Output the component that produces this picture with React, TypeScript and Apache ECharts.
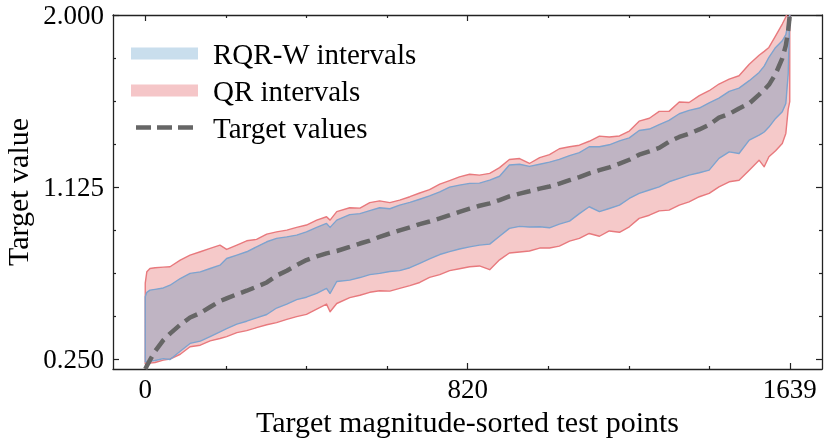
import React, { useEffect, useRef } from 'react';
import * as echarts from 'echarts';

// Test point index (sorted by target magnitude)
const xIndex = [
  0, 4, 12, 25, 46, 63, 89, 114, 140, 165, 190, 207, 233, 258, 283, 309, 334, 360, 385, 410,
  436, 461, 470, 487, 520, 546, 571, 596, 622, 647, 673, 698, 723, 749, 774, 799, 825, 850, 876, 901,
  926, 952, 977, 1003, 1028, 1053, 1079, 1104, 1129, 1155, 1180, 1206, 1231, 1256, 1282, 1307, 1332, 1358, 1383, 1409,
  1434, 1459, 1485, 1510, 1536, 1561, 1574, 1586, 1603, 1620, 1629, 1635, 1639,
];

const qrUpper = [
  0.637, 0.694, 0.711, 0.715, 0.718, 0.72, 0.754, 0.779, 0.796, 0.813, 0.83, 0.808, 0.83, 0.852, 0.859, 0.886, 0.897, 0.906, 0.92, 0.932,
  0.957, 0.974, 0.957, 1.0, 1.02, 1.018, 1.046, 1.055, 1.046, 1.059, 1.076, 1.095, 1.112, 1.14, 1.158, 1.177, 1.19, 1.186, 1.195, 1.224,
  1.265, 1.27, 1.245, 1.275, 1.29, 1.32, 1.33, 1.338, 1.358, 1.384, 1.38, 1.385, 1.41, 1.46, 1.475, 1.51, 1.51, 1.558, 1.555, 1.59,
  1.615, 1.649, 1.674, 1.691, 1.75, 1.795, 1.815, 1.835, 1.894, 1.954, 1.99, 2.03, 2.08,
];

const rqrUpper = [
  0.567, 0.59, 0.601, 0.605, 0.612, 0.626, 0.66, 0.686, 0.694, 0.711, 0.728, 0.762, 0.779, 0.796, 0.821, 0.847, 0.864, 0.872, 0.881, 0.897,
  0.92, 0.94, 0.92, 0.957, 0.985, 0.99, 1.005, 1.02, 1.015, 1.033, 1.047, 1.063, 1.08, 1.101, 1.125, 1.135, 1.144, 1.145, 1.16, 1.18,
  1.237, 1.241, 1.23, 1.241, 1.252, 1.266, 1.285, 1.3, 1.33, 1.33, 1.34, 1.36, 1.375, 1.413, 1.42, 1.443, 1.464, 1.498, 1.515, 1.527,
  1.553, 1.577, 1.612, 1.628, 1.666, 1.708, 1.74, 1.785, 1.835, 1.869, 1.9, 1.96, 2.0,
];

const rqrLower = [
  0.236, 0.238, 0.24, 0.243, 0.253, 0.248, 0.29, 0.33, 0.342, 0.365, 0.389, 0.405, 0.428, 0.443, 0.46, 0.477, 0.51, 0.53, 0.553, 0.565,
  0.585, 0.61, 0.584, 0.645, 0.652, 0.665, 0.68, 0.686, 0.696, 0.7, 0.715, 0.737, 0.76, 0.782, 0.797, 0.81, 0.821, 0.83, 0.835, 0.875,
  0.915, 0.925, 0.922, 0.923, 0.918, 0.937, 0.952, 0.99, 1.025, 1.0, 1.016, 1.033, 1.067, 1.093, 1.11, 1.126, 1.152, 1.169, 1.186, 1.198,
  1.211, 1.271, 1.304, 1.296, 1.364, 1.389, 1.405, 1.43, 1.474, 1.508, 1.55, 1.7, 2.0,
];

const qrLower = [
  0.228, 0.229, 0.23, 0.233, 0.245, 0.25, 0.275, 0.313, 0.321, 0.343, 0.355, 0.365, 0.385, 0.395, 0.41, 0.425, 0.436, 0.452, 0.466, 0.478,
  0.505, 0.53, 0.491, 0.533, 0.563, 0.575, 0.59, 0.598, 0.596, 0.61, 0.624, 0.64, 0.666, 0.68, 0.7, 0.71, 0.72, 0.724, 0.705, 0.755,
  0.79, 0.795, 0.8, 0.815, 0.815, 0.825, 0.85, 0.864, 0.889, 0.875, 0.902, 0.895, 0.923, 0.966, 0.982, 1.004, 1.008, 1.033, 1.05, 1.076,
  1.093, 1.126, 1.152, 1.16, 1.211, 1.262, 1.228, 1.279, 1.31, 1.347, 1.398, 1.52, 1.56,
];

const targetValues = [
  0.2, 0.215, 0.245, 0.29, 0.347, 0.38, 0.425, 0.462, 0.485, 0.515, 0.545, 0.559, 0.58, 0.598, 0.618, 0.64, 0.675, 0.7, 0.728, 0.754,
  0.773, 0.788, 0.792, 0.8, 0.821, 0.838, 0.853, 0.872, 0.889, 0.905, 0.92, 0.937, 0.95, 0.966, 0.982, 0.999, 1.015, 1.03, 1.042, 1.059,
  1.078, 1.092, 1.104, 1.117, 1.128, 1.143, 1.16, 1.176, 1.195, 1.211, 1.225, 1.244, 1.264, 1.29, 1.307, 1.324, 1.356, 1.38, 1.397, 1.418,
  1.442, 1.478, 1.497, 1.525, 1.55, 1.595, 1.62, 1.645, 1.7, 1.78, 1.845, 1.92, 2.0,
];

const xMajorTicks = [0, 820, 1639];
const xMinorTicks = [205, 410, 615, 1025, 1230, 1435];
const yMajorTicks = [0.25, 1.125, 2.0];
const yMinorTicks = [0.46875, 0.6875, 0.90625, 1.34375, 1.5625, 1.78125];

const X_MIN = -82;
const X_MAX = 1721;
const Y_MIN = 0.2;
const Y_MAX = 2.0;

const FONT = '"Liberation Serif", "Times New Roman", serif';
const AXIS_COLOR = '#222222';
const TARGET_COLOR = '#666666';

// dashed legend glyph (12 units high box, dashes 4.5 high in the middle)
const DASH_ICON =
  'path://M0,0h0.01v0.01h-0.01z M0,11.99h0.01v0.01h-0.01z ' +
  'M5,3.75h15v4.5h-15z M26,3.75h15v4.5h-15z M47,3.75h15v4.5h-15z ' +
  'M66.99,0h0.01v0.01h-0.01z';

export default function App() {
  const ref = useRef<HTMLDivElement>(null);

  useEffect(() => {
    if (!ref.current) return;
    const chart = echarts.init(ref.current, null, { renderer: 'svg' });

    const band = (name: string, lo: number[], hi: number[], fill: string, stroke: string, z: number) => ({
      type: 'custom',
      name,
      xAxisIndex: 0,
      yAxisIndex: 0,
      clip: true,
      z,
      data: [[0, lo[0]]],
      encode: { x: 0, y: 1 },
      itemStyle: { color: fill },
      renderItem: (params: any, api: any) => {
        const pts: number[][] = [];
        for (let i = 0; i < xIndex.length; i++) pts.push(api.coord([xIndex[i], hi[i]]));
        for (let i = xIndex.length - 1; i >= 0; i--) pts.push(api.coord([xIndex[i], lo[i]]));
        const cs = params.coordSys;
        return {
          type: 'polygon',
          shape: { points: pts },
          style: { fill, stroke, lineWidth: 1.4, lineJoin: 'round' },
          clipPath: { type: 'rect', shape: { x: cs.x, y: cs.y, width: cs.width, height: cs.height } },
        };
      },
    });

    const tickLine = { color: AXIS_COLOR, width: 1.2 };
    const xAxisBase = { type: 'value', min: X_MIN, max: X_MAX, splitLine: { show: false } };
    const yAxisBase = { type: 'value', min: Y_MIN, max: Y_MAX, splitLine: { show: false } };
    const gridBox = { left: 113, right: 8, top: 15, bottom: 77, containLabel: false, outerBoundsMode: 'none' };

    chart.setOption({
      animation: false,
      textStyle: { fontFamily: FONT },
      grid: [{ ...gridBox }, { ...gridBox }],
      xAxis: [
        {
          ...xAxisBase,
          gridIndex: 0,
          position: 'bottom',
          axisLine: { show: true, onZero: false, lineStyle: { color: AXIS_COLOR, width: 1.3 } },
          axisTick: { show: true, inside: true, length: 6, customValues: xMajorTicks, lineStyle: tickLine },
          axisLabel: {
            show: true,
            customValues: xMajorTicks,
            formatter: (v: number) => String(v),
            fontFamily: FONT,
            fontSize: 27,
            color: '#000',
            margin: 6,
          },
          name: 'Target magnitude-sorted test points',
          nameLocation: 'middle',
          nameGap: 34,
          nameTextStyle: { fontFamily: FONT, fontSize: 30, color: '#000' },
        },
        {
          ...xAxisBase,
          gridIndex: 0,
          position: 'top',
          axisLine: { show: true, onZero: false, lineStyle: { color: AXIS_COLOR, width: 1.3 } },
          axisTick: { show: true, inside: true, length: 6, customValues: xMajorTicks, lineStyle: tickLine },
          axisLabel: { show: false },
        },
        {
          ...xAxisBase,
          gridIndex: 1,
          position: 'bottom',
          axisLine: { show: false, onZero: false },
          axisTick: { show: true, inside: true, length: 3, customValues: xMinorTicks, lineStyle: tickLine },
          axisLabel: { show: false },
        },
        {
          ...xAxisBase,
          gridIndex: 1,
          position: 'top',
          axisLine: { show: false, onZero: false },
          axisTick: { show: true, inside: true, length: 3, customValues: xMinorTicks, lineStyle: tickLine },
          axisLabel: { show: false },
        },
      ],
      yAxis: [
        {
          ...yAxisBase,
          gridIndex: 0,
          position: 'left',
          axisLine: { show: true, onZero: false, lineStyle: { color: AXIS_COLOR, width: 1.3 } },
          axisTick: { show: true, inside: true, length: 6, customValues: yMajorTicks, lineStyle: tickLine },
          axisLabel: {
            show: true,
            customValues: yMajorTicks,
            formatter: (v: number) => v.toFixed(3),
            fontFamily: FONT,
            fontSize: 27,
            color: '#000',
            margin: 9,
          },
          name: 'Target value',
          nameLocation: 'middle',
          nameGap: 80,
          nameTextStyle: { fontFamily: FONT, fontSize: 30, color: '#000' },
        },
        {
          ...yAxisBase,
          gridIndex: 0,
          position: 'right',
          axisLine: { show: true, onZero: false, lineStyle: { color: AXIS_COLOR, width: 1.3 } },
          axisTick: { show: true, inside: true, length: 6, customValues: yMajorTicks, lineStyle: tickLine },
          axisLabel: { show: false },
        },
        {
          ...yAxisBase,
          gridIndex: 1,
          position: 'left',
          axisLine: { show: false, onZero: false },
          axisTick: { show: true, inside: true, length: 3, customValues: yMinorTicks, lineStyle: tickLine },
          axisLabel: { show: false },
        },
        {
          ...yAxisBase,
          gridIndex: 1,
          position: 'right',
          axisLine: { show: false, onZero: false },
          axisTick: { show: true, inside: true, length: 3, customValues: yMinorTicks, lineStyle: tickLine },
          axisLabel: { show: false },
        },
      ],
      legend: {
        orient: 'vertical',
        left: 131,
        top: 37,
        padding: 0,
        itemWidth: 67,
        itemHeight: 12,
        itemGap: 4,
        selectedMode: false,
        textStyle: { fontFamily: FONT, fontSize: 29, color: '#000', lineHeight: 33, padding: [0, 0, 0, 10] },
        data: [
          { name: 'RQR-W intervals', icon: 'rect', itemStyle: { color: '#c9deed' } },
          { name: 'QR intervals', icon: 'rect', itemStyle: { color: '#f5c6c8' } },
          { name: 'Target values', icon: DASH_ICON, itemStyle: { color: TARGET_COLOR, borderWidth: 0 } },
        ],
      },
      series: [
        band('QR intervals', qrLower, qrUpper, 'rgba(214,39,40,0.25)', '#e8797d', 1),
        band('RQR-W intervals', rqrLower, rqrUpper, 'rgba(31,119,180,0.25)', '#7da3cf', 2),
        {
          type: 'line',
          name: 'Target values',
          xAxisIndex: 0,
          yAxisIndex: 0,
          data: xIndex.map((x, i) => [x, targetValues[i]]),
          showSymbol: false,
          symbol: 'none',
          clip: true,
          z: 5,
          lineStyle: { color: TARGET_COLOR, width: 4.5, type: [14, 7], cap: 'butt' },
          itemStyle: { color: TARGET_COLOR },
        },
      ],
    });

    return () => chart.dispose();
  }, []);

  return <div ref={ref} style={{ position: 'fixed', left: 0, top: 0, width: 830, height: 446 }} />;
}
